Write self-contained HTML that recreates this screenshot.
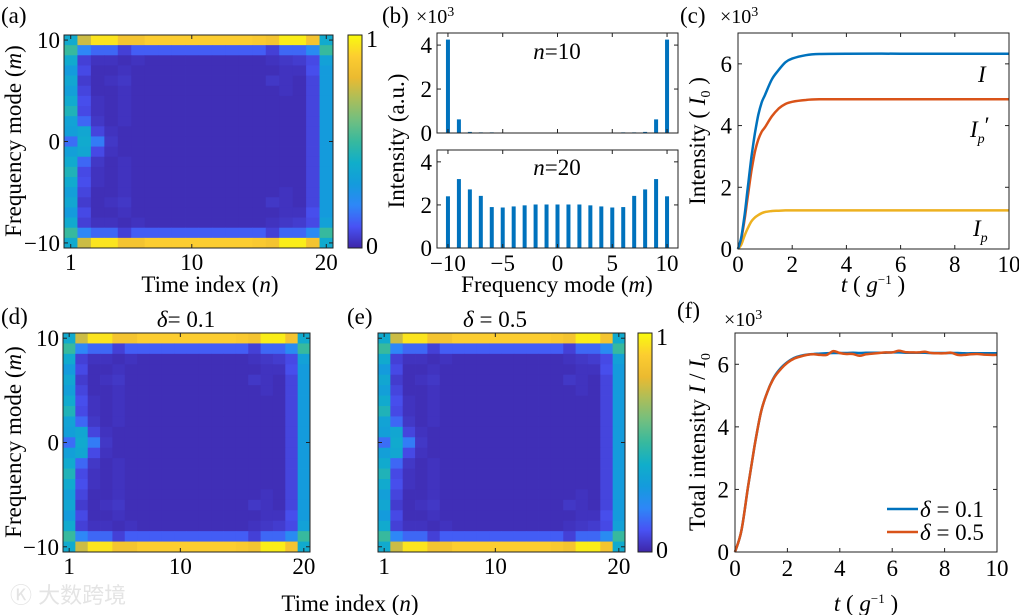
<!DOCTYPE html>
<html><head><meta charset="utf-8"><style>
body{margin:0;background:#fff;}
svg{display:block;}
svg text{font-family:"Liberation Serif","Times New Roman",serif;}
</style></head><body>
<svg id="fig" width="1019" height="615" viewBox="0 0 1019 615" xmlns="http://www.w3.org/2000/svg">
<defs>
<linearGradient id="parula" x1="0" y1="1" x2="0" y2="0">
<stop offset="0" stop-color="rgb(62,38,168)"/><stop offset="0.1" stop-color="rgb(72,82,244)"/>
<stop offset="0.2" stop-color="rgb(46,135,247)"/><stop offset="0.3" stop-color="rgb(20,155,220)"/>
<stop offset="0.4" stop-color="rgb(16,174,202)"/><stop offset="0.5" stop-color="rgb(55,185,158)"/>
<stop offset="0.6" stop-color="rgb(113,191,128)"/><stop offset="0.7" stop-color="rgb(171,190,90)"/>
<stop offset="0.8" stop-color="rgb(235,186,48)"/><stop offset="0.9" stop-color="rgb(252,205,48)"/>
<stop offset="1" stop-color="rgb(249,251,14)"/></linearGradient>
</defs>
<text x="10" y="603" font-size="22" fill="#e4e4e4" style="font-family:'Liberation Sans','Noto Sans CJK SC',sans-serif">Ⓚ 大数跨境</text>
</svg>
<script>
// ---- heatmap data (rows m=10..-10, columns n=1..20) ----
const heatRows = [
[0.38,0.75,0.95,0.95,0.85,0.85,0.9,0.9,0.9,0.9,0.9,0.9,0.9,0.9,0.88,0.85,0.97,0.97,0.85,0.38],
[0.5,0.2,0.14,0.14,0.06,0.12,0.12,0.12,0.12,0.12,0.12,0.12,0.12,0.12,0.12,0.06,0.14,0.14,0.22,0.5],
[0.38,0.06,0.03,0.03,0.02,0.03,0.02,0.02,0.02,0.02,0.02,0.02,0.02,0.02,0.02,0.03,0.04,0.05,0.08,0.33],
[0.3,0.08,0.02,0.02,0.03,0.02,0.02,0.02,0.02,0.02,0.02,0.02,0.02,0.02,0.02,0.02,0.03,0.03,0.09,0.3],
[0.36,0.05,0.02,0.03,0.04,0.02,0.02,0.02,0.02,0.02,0.02,0.02,0.02,0.02,0.02,0.04,0.03,0.02,0.07,0.3],
[0.32,0.07,0.02,0.02,0.03,0.02,0.02,0.02,0.02,0.02,0.02,0.02,0.02,0.02,0.02,0.02,0.03,0.02,0.07,0.3],
[0.38,0.09,0.03,0.02,0.03,0.02,0.02,0.02,0.02,0.02,0.02,0.02,0.02,0.02,0.02,0.02,0.02,0.02,0.07,0.3],
[0.44,0.08,0.03,0.02,0.03,0.02,0.02,0.02,0.02,0.02,0.02,0.02,0.02,0.02,0.02,0.02,0.02,0.02,0.07,0.3],
[0.34,0.14,0.04,0.02,0.03,0.02,0.02,0.02,0.02,0.02,0.02,0.02,0.02,0.02,0.02,0.02,0.02,0.02,0.07,0.3],
[0.32,0.36,0.07,0.03,0.02,0.02,0.02,0.02,0.02,0.02,0.02,0.02,0.02,0.02,0.02,0.02,0.02,0.02,0.07,0.3],
[0.15,0.38,0.18,0.04,0.02,0.02,0.02,0.02,0.02,0.02,0.02,0.02,0.02,0.02,0.02,0.02,0.02,0.02,0.07,0.3],
[0.32,0.36,0.08,0.03,0.02,0.02,0.02,0.02,0.02,0.02,0.02,0.02,0.02,0.02,0.02,0.02,0.02,0.02,0.07,0.3],
[0.38,0.14,0.04,0.02,0.03,0.02,0.02,0.02,0.02,0.02,0.02,0.02,0.02,0.02,0.02,0.02,0.02,0.02,0.07,0.3],
[0.44,0.08,0.03,0.02,0.03,0.02,0.02,0.02,0.02,0.02,0.02,0.02,0.02,0.02,0.02,0.02,0.02,0.02,0.07,0.3],
[0.38,0.09,0.03,0.02,0.03,0.02,0.02,0.02,0.02,0.02,0.02,0.02,0.02,0.02,0.02,0.02,0.02,0.02,0.07,0.3],
[0.32,0.07,0.02,0.02,0.03,0.02,0.02,0.02,0.02,0.02,0.02,0.02,0.02,0.02,0.02,0.02,0.03,0.02,0.07,0.3],
[0.36,0.05,0.02,0.03,0.04,0.02,0.02,0.02,0.02,0.02,0.02,0.02,0.02,0.02,0.02,0.04,0.03,0.02,0.07,0.3],
[0.3,0.08,0.02,0.02,0.03,0.02,0.02,0.02,0.02,0.02,0.02,0.02,0.02,0.02,0.02,0.02,0.03,0.03,0.09,0.3],
[0.38,0.06,0.03,0.03,0.02,0.03,0.02,0.02,0.02,0.02,0.02,0.02,0.02,0.02,0.02,0.03,0.04,0.05,0.08,0.33],
[0.5,0.2,0.14,0.14,0.06,0.12,0.12,0.12,0.12,0.12,0.12,0.12,0.12,0.12,0.12,0.06,0.14,0.14,0.22,0.5],
[0.38,0.75,0.95,0.95,0.85,0.85,0.9,0.9,0.9,0.9,0.9,0.9,0.9,0.9,0.88,0.85,0.97,0.97,0.85,0.38]
];
const heatM = [10,9,8,7,6,5,4,3,2,1,0,-1,-2,-3,-4,-5,-6,-7,-8,-9,-10];
const heatN = [1,2,3,4,5,6,7,8,9,10,11,12,13,14,15,16,17,18,19,20];
const heatXTicks = [1,10,20];
const heatYTicks = [10,0,-10];
// ---- panel b ----
const modesB = [-10,-9,-8,-7,-6,-5,-4,-3,-2,-1,0,1,2,3,4,5,6,7,8,9,10];
const barsN10 = [4.25,0.62,0.05,0.03,0.03,0.01,0,0,0,0,0,0,0,0,0,0.01,0.03,0.03,0.05,0.62,4.25];
const barsN20 = [2.4,3.2,2.72,2.42,1.9,1.88,1.93,1.98,2.02,2.02,2.02,2.02,2.02,1.98,1.93,1.88,1.9,2.42,2.72,3.2,2.4];
const bXTicks = [-10,-5,0,5,10];
const bYTicks = [0,2,4];
// ---- panel c ----
const tC = [0,0.125,0.25,0.375,0.5,0.625,0.75,0.875,1,1.25,1.5,1.75,2,2.5,3,4,6,8,10];
const cI = [0,0.4,1.15,2.1,3.0,3.75,4.35,4.75,5.0,5.5,5.8,6.05,6.17,6.28,6.32,6.33,6.33,6.33,6.33];
const cIpPrime = [0,0.35,1.0,1.8,2.55,3.15,3.55,3.8,3.95,4.3,4.55,4.7,4.77,4.83,4.85,4.85,4.85,4.85,4.85];
const cIp = [0,0.15,0.45,0.7,0.9,1.02,1.1,1.16,1.2,1.23,1.24,1.25,1.25,1.25,1.25,1.25,1.25,1.25,1.25];
const tTicks = [0,2,4,6,8,10];
const iTicks = [0,2,4,6];
// ---- panel f ----
const tF = [0,0.25,0.5,0.75,1,1.25,1.5,1.75,2,2.25,2.5,2.75,3,3.25,3.5,3.75,4,4.25,4.5,4.75,5,5.25,5.5,5.75,6,6.25,6.5,6.75,7,7.25,7.5,7.75,8,8.25,8.5,8.75,9,9.25,9.5,9.75,10];
const fD01 = [0,0.7,2.1,3.4,4.5,5.15,5.6,5.88,6.07,6.2,6.27,6.31,6.33,6.34,6.35,6.36,6.36,6.36,6.37,6.36,6.37,6.37,6.37,6.37,6.38,6.38,6.37,6.37,6.37,6.37,6.36,6.36,6.36,6.36,6.36,6.35,6.35,6.35,6.35,6.35,6.35];
const fD05 = [0,0.7,2.1,3.4,4.5,5.15,5.58,5.85,6.05,6.18,6.25,6.3,6.32,6.3,6.3,6.42,6.36,6.33,6.33,6.27,6.32,6.34,6.36,6.38,6.38,6.43,6.39,6.38,6.38,6.4,6.36,6.35,6.35,6.37,6.3,6.3,6.32,6.33,6.31,6.3,6.3];

const svg = document.getElementById('fig');
const NS = 'http://www.w3.org/2000/svg';
const SERIF = '"Liberation Serif", "Times New Roman", serif';
const FS = 23;
function mk(tag, attrs, parent){const e=document.createElementNS(NS,tag);for(const k in attrs)e.setAttribute(k,attrs[k]);(parent||svg).appendChild(e);return e;}
function txt(x,y,s,size,anchor,parent){const t=mk('text',{x:x,y:y,'font-size':size||FS,'text-anchor':anchor||'middle','font-family':SERIF},parent);t.innerHTML=s;return t;}

const stops=[[0,62,38,168],[0.1,72,82,244],[0.2,46,135,247],[0.3,20,155,220],[0.4,16,174,202],[0.5,55,185,158],[0.6,113,191,128],[0.7,171,190,90],[0.8,235,186,48],[0.9,252,205,48],[1,249,251,14]];
function parula(v){v=Math.max(0,Math.min(1,v));for(let i=0;i<stops.length-1;i++){const a=stops[i],b=stops[i+1];if(v<=b[0]){const f=(v-a[0])/(b[0]-a[0]);return 'rgb('+[1,2,3].map(k=>Math.round(a[k]+f*(b[k]-a[k]))).join(',')+')';}}return 'rgb(249,251,14)';}

function frame(x0,y0,w,h,name){
  const r=mk('rect',{x:x0,y:y0,width:w,height:h,fill:'none',stroke:'#222','stroke-width':1});
  
  
}
function xticks(ticks,sx,y0,h,labels,ly){
  ticks.forEach((v,i)=>{
    const x=sx(v);
    mk('line',{x1:x,y1:y0+h,x2:x,y2:y0+h-4,stroke:'#222'});
    mk('line',{x1:x,y1:y0,x2:x,y2:y0+4,stroke:'#222'});
    if(labels){const t=txt(x,ly,labels[i]);
      
      }
  });
}
function yticks(ticks,sy,x0,w,labels,lx){
  ticks.forEach((v,i)=>{
    const y=sy(v);
    mk('line',{x1:x0,y1:y,x2:x0+4,y2:y,stroke:'#222'});
    mk('line',{x1:x0+w,y1:y,x2:x0+w-4,y2:y,stroke:'#222'});
    if(labels){const t=txt(lx,y+8,labels[i],FS,'end');
      
      }
  });
}
function fmtNeg(v){return v<0?'−'+(-v):''+v;}

function heatmap(x0,y0,w,h,name,showY){
  const sx=n=>x0+(n-0.5)/20*w, sy=m=>y0+(10.5-m)/21*h;
  const cw=w/20, ch=h/21;
  heatM.forEach((m,i)=>heatN.forEach((n,j)=>{
    const c=mk('rect',{x:sx(n)-cw/2,y:sy(m)-ch/2,width:cw+0.4,height:ch+0.4,fill:parula(heatRows[i][j])});
    
    
  }));
  frame(x0,y0,w,h,name+'-axes');
  xticks(heatXTicks,sx,y0,h,heatXTicks.map(String),y0+h+22);
  yticks(heatYTicks,sy,x0,w,showY?heatYTicks.map(fmtNeg):null,x0-4);
}
function colorbar(x0,y0,w,h,name,lx){
  const r=mk('rect',{x:x0,y:y0,width:w,height:h,fill:'url(#parula)',stroke:'#222'});
  
  
  txt(lx,y0+12,'1',24,'start');txt(lx,y0+h+6,'0',24,'start');
}
function line(xs,ys,sx,sy,color,name){
  const P=xs.map((x,i)=>[sx(x),sy(ys[i])]);
  let d='M'+P[0][0].toFixed(1)+','+P[0][1].toFixed(1);
  for(let i=0;i<P.length-1;i++){
    const p0=P[Math.max(0,i-1)],p1=P[i],p2=P[i+1],p3=P[Math.min(P.length-1,i+2)];
    const c1=[p1[0]+(p2[0]-p0[0])/6,p1[1]+(p2[1]-p0[1])/6];
    const c2=[p2[0]-(p3[0]-p1[0])/6,p2[1]-(p3[1]-p1[1])/6];
    d+=' C'+c1.map(v=>v.toFixed(1)).join(',')+' '+c2.map(v=>v.toFixed(1)).join(',')+' '+p2[0].toFixed(1)+','+p2[1].toFixed(1);
  }
  const p=mk('path',{d:d,fill:'none',stroke:color,'stroke-width':2.5,'stroke-linejoin':'round'});
  
  
}

// Panel a
heatmap(64,35,269,213,'heatmap-a',true);
colorbar(348,35,14,213,'colorbar-a',366);
txt(1,23,'(a)',FS,'start');
txt(210,292,'Time index (<tspan font-style="italic">n</tspan>)');
txt(0,0,'Frequency mode (<tspan font-style="italic">m</tspan>)',FS,'middle').setAttribute('transform','translate(21,141) rotate(-90)');

// Panel b
(function(){
  const x0=437,w=241;
  const sx=m=>x0+(m+11)/22*w;
  [[33,100,barsN10,'n10'],[150,98,barsN20,'n20']].forEach(([y0,h,vals,nm],k)=>{
    const sy=v=>y0+h-v/4.55*h;
    modesB.forEach((m,i)=>{
      const b=mk('rect',{x:sx(m)-2,y:sy(vals[i]),width:4,height:Math.max(0,y0+h-sy(vals[i])),fill:'#0072BD'});
      
      
    });
    frame(x0,y0,w,h,'axes-b-'+nm);
    xticks(bXTicks,sx,y0,h,k===1?bXTicks.map(fmtNeg):null,y0+h+23);
    yticks(bYTicks,sy,x0,w,bYTicks.map(String),x0-5);
  });
  txt(382,23,'(b)',FS,'start');
  txt(416,23,'×10<tspan font-size="14" dy="-7">3</tspan>',20,'start');
  txt(557,59,'<tspan font-style="italic">n</tspan>=10');
  txt(557,175,'<tspan font-style="italic">n</tspan>=20');
  txt(557,292,'Frequency mode (<tspan font-style="italic">m</tspan>)');
  txt(0,0,'Intensity (a.u.)',FS,'middle').setAttribute('transform','translate(404,141) rotate(-90)');
})();

// Panel c
(function(){
  const x0=738,y0=33,w=271,h=216;
  const sx=t=>x0+t/10*w, sy=v=>y0+h-v/7*h;
  line(tC,cIp,sx,sy,'#EDB120','line-Ip');
  line(tC,cIpPrime,sx,sy,'#D95319','line-Ip-prime');
  line(tC,cI,sx,sy,'#0072BD','line-I');
  frame(x0,y0,w,h,'axes-c');
  xticks(tTicks,sx,y0,h,tTicks.map(String),y0+h+23);
  yticks(iTicks,sy,x0,w,iTicks.map(String),x0-6);
  txt(680,23,'(c)',FS,'start');
  txt(720,23,'×10<tspan font-size="14" dy="-7">3</tspan>',20,'start');
  txt(978,82,'<tspan font-style="italic">I</tspan>',FS,'start');
  txt(970,137,'<tspan font-style="italic">I</tspan><tspan font-size="14" dy="6" font-style="italic">p</tspan><tspan dy="-10">′</tspan>',FS,'start');
  txt(973,236,'<tspan font-style="italic">I</tspan><tspan font-size="14" dy="6" font-style="italic">p</tspan>',FS,'start');
  txt(873,292,'<tspan font-style="italic">t</tspan> ( <tspan font-style="italic">g</tspan><tspan font-size="13" dy="-8">−1</tspan><tspan dy="8"> )</tspan>');
  txt(0,0,'Intensity ( <tspan font-style="italic">I</tspan><tspan font-size="14" dy="5">0</tspan><tspan dy="-5"> )</tspan>',FS,'middle').setAttribute('transform','translate(705,141) rotate(-90)');
})();

// Panels d, e
heatmap(63,333,247,219,'heatmap-d',true);
heatmap(378,333,247,219,'heatmap-e',false);
colorbar(638,333,14,219,'colorbar-e',656);
txt(1,324,'(d)',FS,'start');
txt(347,324,'(e)',FS,'start');
txt(186,327,'<tspan font-style="italic">δ</tspan>= 0.1');
txt(495,327,'<tspan font-style="italic">δ</tspan> = 0.5');
txt(350,611,'Time index (<tspan font-style="italic">n</tspan>)');
txt(0,0,'Frequency mode (<tspan font-style="italic">m</tspan>)',FS,'middle').setAttribute('transform','translate(21,442) rotate(-90)');

// Panel f
(function(){
  const x0=735,y0=333,w=262,h=219;
  const sx=t=>x0+t/10*w, sy=v=>y0+h-v/7*h;
  line(tF,fD01,sx,sy,'#0072BD','line-delta-0.1');
  line(tF,fD05,sx,sy,'#D95319','line-delta-0.5');
  frame(x0,y0,w,h,'axes-f');
  xticks(tTicks,sx,y0,h,tTicks.map(String),y0+h+24);
  yticks(iTicks,sy,x0,w,iTicks.map(String),x0-6);
  txt(677,318,'(f)',FS,'start');
  txt(724,326,'×10<tspan font-size="14" dy="-7">3</tspan>',20,'start');
  const l1=mk('line',{x1:887,y1:509,x2:918,y2:509,stroke:'#0072BD','stroke-width':2.5});
  
  
  const l2=mk('line',{x1:887,y1:532,x2:918,y2:532,stroke:'#D95319','stroke-width':2.5});
  
  
  txt(920,517,'<tspan font-style="italic">δ</tspan> = 0.1',FS,'start');
  txt(920,540,'<tspan font-style="italic">δ</tspan> = 0.5',FS,'start');
  txt(866,611,'<tspan font-style="italic">t</tspan> ( <tspan font-style="italic">g</tspan><tspan font-size="13" dy="-8">−1</tspan><tspan dy="8"> )</tspan>');
  txt(0,0,'Total intensity <tspan font-style="italic">I</tspan> / <tspan font-style="italic">I</tspan><tspan font-size="14" dy="5">0</tspan>',FS,'middle').setAttribute('transform','translate(705,442) rotate(-90)');
})();
</script>
</body></html>
